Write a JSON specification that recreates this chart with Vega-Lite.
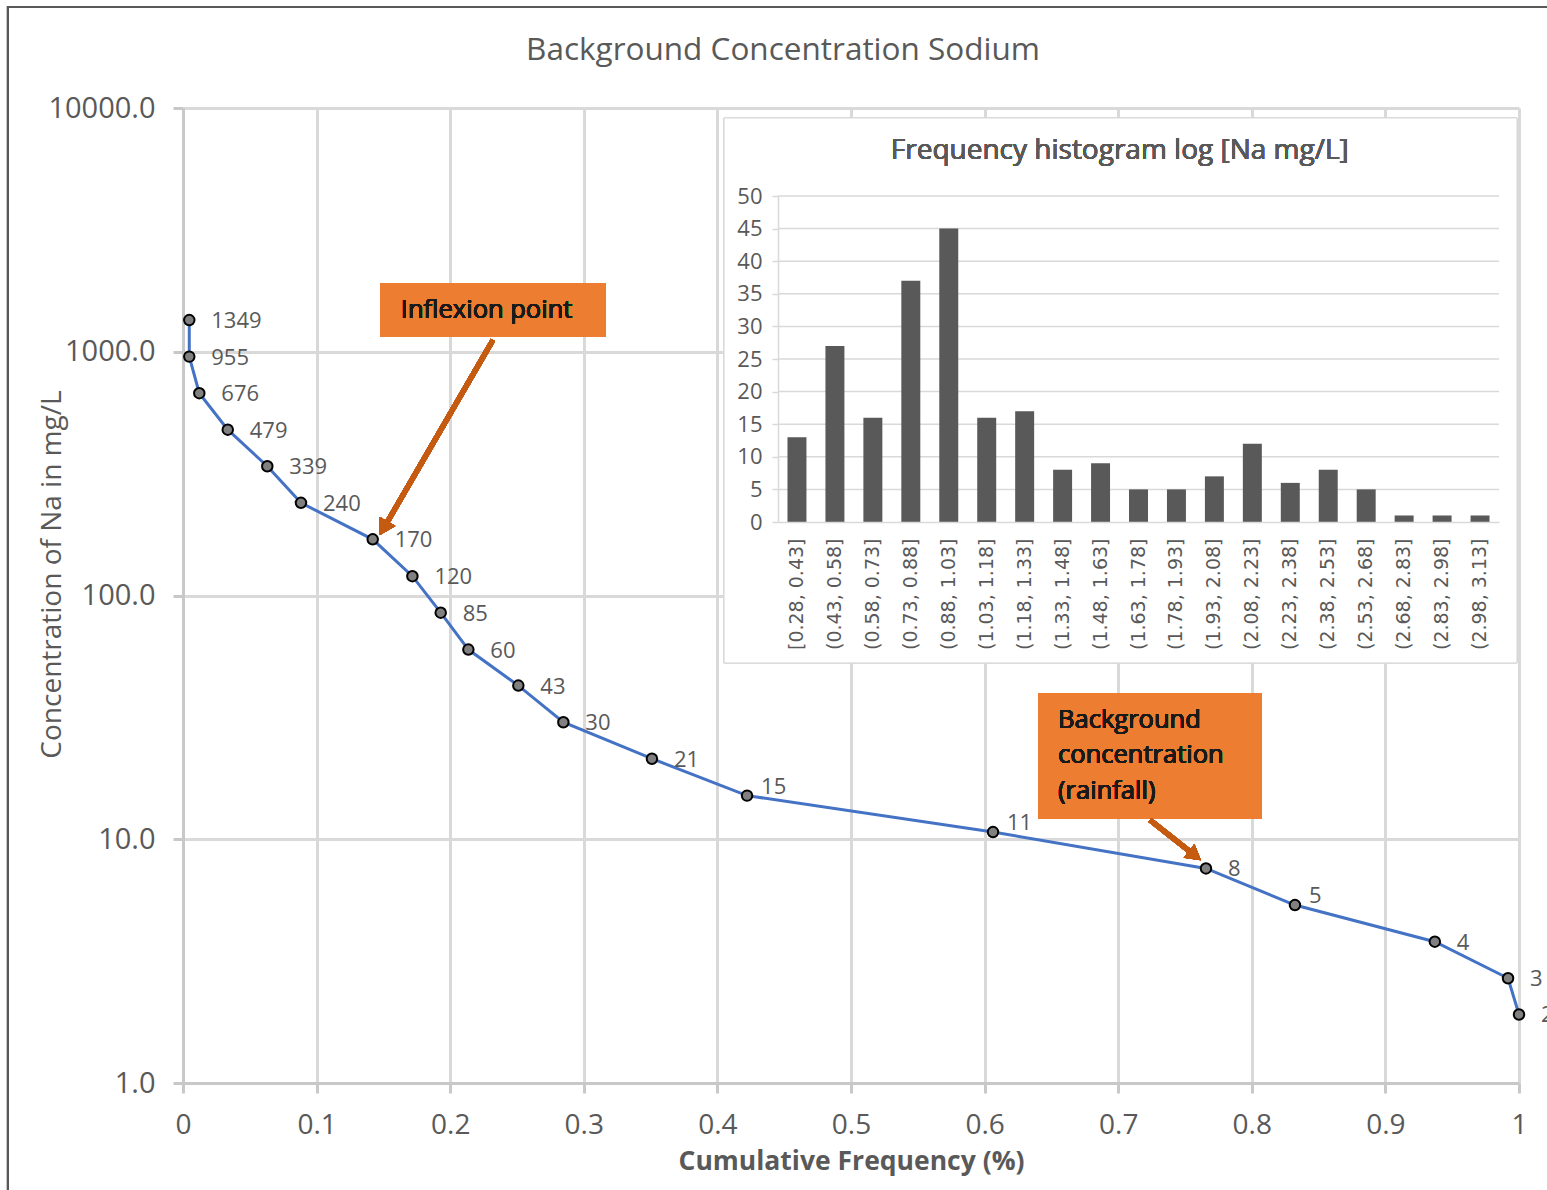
{
  "$schema": "https://vega.github.io/schema/vega-lite/v6.json",
  "width": 1336,
  "height": 975,
  "autosize": "none",
  "padding": {"left": 183, "top": 108, "right": 28, "bottom": 107},
  "background": "white",
  "config": {
    "view": {"stroke": null},
    "font": "Open Sans",
    "axis": {"labelColor": "#595959", "titleColor": "#595959"}
  },
  "title": {
    "text": "Background Concentration Sodium",
    "fontSize": 31.5,
    "fontWeight": "normal",
    "color": "#595959",
    "font": "Open Sans",
    "anchor": "middle",
    "baseline": "bottom",
    "dx": -68,
    "offset": -92
  },
  "datasets": {
    "curve": [
      {"freq": 0.0047, "conc": 1349, "label": "1349"},
      {"freq": 0.0047, "conc": 955, "label": "955"},
      {"freq": 0.0122, "conc": 676, "label": "676"},
      {"freq": 0.0335, "conc": 479, "label": "479"},
      {"freq": 0.0631, "conc": 339, "label": "339"},
      {"freq": 0.0883, "conc": 240, "label": "240"},
      {"freq": 0.142, "conc": 170, "label": "170"},
      {"freq": 0.1717, "conc": 120, "label": "120"},
      {"freq": 0.1929, "conc": 85, "label": "85"},
      {"freq": 0.2136, "conc": 60, "label": "60"},
      {"freq": 0.251, "conc": 42.7, "label": "43"},
      {"freq": 0.2847, "conc": 30.2, "label": "30"},
      {"freq": 0.351, "conc": 21.4, "label": "21"},
      {"freq": 0.4222, "conc": 15.1, "label": "15"},
      {"freq": 0.6063, "conc": 10.7, "label": "11"},
      {"freq": 0.7657, "conc": 7.59, "label": "8"},
      {"freq": 0.8323, "conc": 5.37, "label": "5"},
      {"freq": 0.937, "conc": 3.8, "label": "4"},
      {"freq": 0.9918, "conc": 2.69, "label": "3"},
      {"freq": 1.0, "conc": 1.91, "label": "2"}
    ],
    "hist": [
      {"bin": "[0.28, 0.43]", "count": 13},
      {"bin": "(0.43, 0.58]", "count": 27},
      {"bin": "(0.58, 0.73]", "count": 16},
      {"bin": "(0.73, 0.88]", "count": 37},
      {"bin": "(0.88, 1.03]", "count": 45},
      {"bin": "(1.03, 1.18]", "count": 16},
      {"bin": "(1.18, 1.33]", "count": 17},
      {"bin": "(1.33, 1.48]", "count": 8},
      {"bin": "(1.48, 1.63]", "count": 9},
      {"bin": "(1.63, 1.78]", "count": 5},
      {"bin": "(1.78, 1.93]", "count": 5},
      {"bin": "(1.93, 2.08]", "count": 7},
      {"bin": "(2.08, 2.23]", "count": 12},
      {"bin": "(2.23, 2.38]", "count": 6},
      {"bin": "(2.38, 2.53]", "count": 8},
      {"bin": "(2.53, 2.68]", "count": 5},
      {"bin": "(2.68, 2.83]", "count": 1},
      {"bin": "(2.83, 2.98]", "count": 1},
      {"bin": "(2.98, 3.13]", "count": 1}
    ],
    "histGrid": [
      {"level": 5}, {"level": 10}, {"level": 15}, {"level": 20}, {"level": 25},
      {"level": 30}, {"level": 35}, {"level": 40}, {"level": 45}, {"level": 50}
    ]
  },
  "layer": [
    {
      "data": {"name": "curve"},
      "layer": [
        {
          "mark": {"type": "line", "color": "#4472C4", "strokeWidth": 3},
          "encoding": {
            "x": {
              "field": "freq", "type": "quantitative",
              "scale": {"domain": [0, 1], "nice": false, "zero": false},
              "axis": {
                "orient": "bottom",
                "values": [0, 0.1, 0.2, 0.3, 0.4, 0.5, 0.6, 0.7, 0.8, 0.9, 1],
                "format": "~g",
                "grid": true, "gridColor": "#D9D9D9", "gridWidth": 3,
                "domainColor": "#C8C8C8", "domainWidth": 3,
                "tickColor": "#C8C8C8", "tickWidth": 3, "tickSize": 10,
                "labelFontSize": 28, "labelPadding": 32, "labelBaseline": "middle",
                "labelFlush": false, "labelOverlap": false,
                "title": "Cumulative Frequency (%)",
                "titleFontSize": 26.5, "titleFontWeight": "bold",
                "titleBaseline": "middle", "titleY": 78
              }
            },
            "y": {
              "field": "conc", "type": "quantitative",
              "scale": {"type": "log", "domain": [1, 10000], "nice": false},
              "axis": {
                "orient": "left",
                "values": [1, 10, 100, 1000, 10000],
                "format": ".1f",
                "grid": true, "gridColor": "#D9D9D9", "gridWidth": 3,
                "domainColor": "#C8C8C8", "domainWidth": 3,
                "tickColor": "#C8C8C8", "tickWidth": 3, "tickSize": 10,
                "labelFontSize": 29, "labelPadding": 18,
                "labelOverlap": false,
                "title": "Concentration of Na in mg/L",
                "titleFontSize": 28, "titleFontWeight": "normal",
                "titleBaseline": "middle", "titleAngle": -90,
                "titleX": -131, "titleY": 466
              }
            }
          }
        },
        {
          "mark": {"type": "circle", "size": 110, "fill": "#808080", "stroke": "#000000", "strokeWidth": 2, "opacity": 1},
          "encoding": {
            "x": {"field": "freq", "type": "quantitative"},
            "y": {"field": "conc", "type": "quantitative"}
          }
        },
        {
          "transform": [{"filter": "indexof(['11','5','15'], datum.label) < 0"}],
          "mark": {"type": "text", "align": "left", "baseline": "middle", "dx": 22, "dy": 1, "fontSize": 22, "color": "#595959"},
          "encoding": {
            "x": {"field": "freq", "type": "quantitative"},
            "y": {"field": "conc", "type": "quantitative"},
            "text": {"field": "label"}
          }
        },
        {
          "transform": [{"filter": "indexof(['11','5','15'], datum.label) >= 0"}],
          "mark": {"type": "text", "align": "left", "baseline": "middle", "dx": 14, "dy": -9, "fontSize": 22, "color": "#595959"},
          "encoding": {
            "x": {"field": "freq", "type": "quantitative"},
            "y": {"field": "conc", "type": "quantitative"},
            "text": {"field": "label"}
          }
        },
        {
          "mark": {"type": "rect", "fill": null, "stroke": "#595959", "strokeWidth": 2, "filled": false},
          "encoding": {
            "x": {"datum": -0.131, "type": "quantitative"},
            "x2": {"datum": 1.1},
            "y": {"datum": 25960, "type": "quantitative"},
            "y2": {"datum": 0.3}
          }
        },
        {
          "mark": {"type": "rect", "fill": "#FFFFFF", "stroke": "#D9D9D9", "strokeWidth": 1},
          "encoding": {
            "x": {"datum": 0.405, "type": "quantitative"},
            "x2": {"datum": 0.9985},
            "y": {"datum": 9100, "type": "quantitative"},
            "y2": {"datum": 52.9}
          }
        },
        {
          "mark": {"type": "rect", "fill": "#ED7D31"},
          "encoding": {
            "x": {"datum": 0.148, "type": "quantitative"},
            "x2": {"datum": 0.316},
            "y": {"datum": 1914, "type": "quantitative"},
            "y2": {"datum": 1150}
          }
        },
        {
          "mark": {"type": "text", "text": "Inflexion point", "align": "left", "baseline": "middle", "fontSize": 25.5, "color": "#1A1A1A"},
          "encoding": {
            "x": {"datum": 0.163, "type": "quantitative"},
            "y": {"datum": 1483, "type": "quantitative"}
          }
        },
        {
          "mark": {"type": "rect", "fill": "#ED7D31"},
          "encoding": {
            "x": {"datum": 0.64, "type": "quantitative"},
            "x2": {"datum": 0.8076},
            "y": {"datum": 39.8, "type": "quantitative"},
            "y2": {"datum": 12.2}
          }
        },
        {
          "mark": {"type": "text", "text": ["Background", "concentration", "(rainfall)"], "align": "left", "baseline": "middle", "lineHeight": 35.5, "fontSize": 25.5, "color": "#1A1A1A"},
          "encoding": {
            "x": {"datum": 0.655, "type": "quantitative"},
            "y": {"datum": 30.9, "type": "quantitative"}
          }
        },
        {
          "mark": {"type": "rule", "color": "#C55A11", "strokeWidth": 5},
          "encoding": {
            "x": {"datum": 0.232, "type": "quantitative"},
            "y": {"datum": 1117, "type": "quantitative"},
            "x2": {"datum": 0.1512},
            "y2": {"datum": 192.8}
          }
        },
        {
          "mark": {"type": "point", "shape": "triangle", "filled": true, "color": "#C55A11", "size": 320, "angle": 210, "opacity": 1},
          "encoding": {
            "x": {"datum": 0.1512, "type": "quantitative"},
            "y": {"datum": 192.8, "type": "quantitative"}
          }
        },
        {
          "mark": {"type": "rule", "color": "#C55A11", "strokeWidth": 5},
          "encoding": {
            "x": {"datum": 0.7238, "type": "quantitative"},
            "y": {"datum": 12.0, "type": "quantitative"},
            "x2": {"datum": 0.756},
            "y2": {"datum": 8.7}
          }
        },
        {
          "mark": {"type": "point", "shape": "triangle", "filled": true, "color": "#C55A11", "size": 300, "angle": 128, "opacity": 1},
          "encoding": {
            "x": {"datum": 0.756, "type": "quantitative"},
            "y": {"datum": 8.7, "type": "quantitative"}
          }
        }
      ]
    },
    {
      "data": {"name": "histGrid"},
      "layer": [
        {
          "mark": {"type": "rule", "color": "#D9D9D9", "strokeWidth": 1.5},
          "encoding": {
            "x": {"datum": 0, "type": "quantitative", "scale": {"domain": [0, 1], "range": [595, 1316], "nice": false, "zero": false}, "axis": null},
            "x2": {"datum": 1},
            "y": {"field": "level", "type": "quantitative", "scale": {"domain": [0, 50], "range": [414, 88], "nice": false}, "axis": null}
          }
        },
        {
          "mark": {"type": "text", "text": "Frequency histogram log [Na mg/L]", "align": "center", "baseline": "middle", "fontSize": 28, "color": "#595959"},
          "encoding": {
            "x": {"datum": 0.474, "type": "quantitative"},
            "y": {"datum": 56.9, "type": "quantitative"}
          }
        }
      ]
    },
    {
      "data": {"name": "hist"},
      "mark": {"type": "bar", "color": "#595959"},
      "encoding": {
        "x": {
          "field": "bin", "type": "nominal", "sort": null,
          "scale": {"range": [595, 1316], "paddingInner": 0.5, "paddingOuter": 0.25},
          "axis": {
            "orient": "bottom", "offset": -561, "zindex": 1,
            "labelAngle": -90, "labelFont": "DejaVu Sans", "labelFontSize": 19,
            "labelColor": "#595959", "labelPadding": 16,
            "ticks": false, "tickSize": 0,
            "domainColor": "#D9D9D9", "domainWidth": 1.5,
            "grid": false, "title": null, "labelOverlap": false
          }
        },
        "y": {
          "field": "count", "type": "quantitative",
          "scale": {"domain": [0, 50], "range": [414, 88], "nice": false},
          "axis": {
            "orient": "left", "offset": -595, "zindex": 1,
            "values": [0, 5, 10, 15, 20, 25, 30, 35, 40, 45, 50],
            "grid": false, "domain": true, "domainColor": "#D9D9D9", "domainWidth": 1.5,
            "tickColor": "#D9D9D9", "tickSize": 6, "tickWidth": 1.5,
            "labelFontSize": 22, "labelPadding": 10, "labelColor": "#595959",
            "title": null, "labelOverlap": false
          }
        }
      }
    }
  ],
  "resolve": {
    "scale": {"x": "independent", "y": "independent"},
    "axis": {"x": "independent", "y": "independent"}
  }
}
